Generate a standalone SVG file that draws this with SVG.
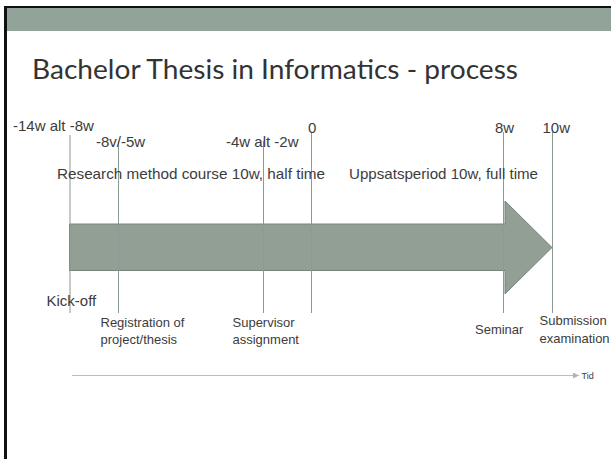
<svg xmlns="http://www.w3.org/2000/svg" width="611" height="459" viewBox="0 0 611 459">
  <defs>
    <style>
      .lbl { font-family: "Liberation Sans", Arial, sans-serif; fill: #3c3c3c; }
      .big { font-size: 15px; }
      .sm { font-size: 13px; }
      .tick { stroke: #8b9a92; stroke-width: 1; fill: none; }
    </style>
    <marker id="tip" viewBox="0 0 6 6" refX="6" refY="3" markerWidth="6" markerHeight="6" orient="auto" markerUnits="userSpaceOnUse">
      <path d="M0,0 L6,3 L0,6 z" fill="#a9b7b0"/>
    </marker>
  </defs>
  <rect x="0" y="0" width="611" height="459" fill="#ffffff"/>
  <g id="frame">
    <rect x="7" y="8" width="604" height="23" fill="#92a399"/>
    <rect x="5" y="6" width="606" height="2" fill="#111111"/>
    <rect x="4" y="6" width="3" height="453" fill="#111111"/>
  </g>
  <g id="title">
    <text x="32" y="79" font-family="Lato, 'Open Sans', sans-serif" font-size="26" fill="#333333" textLength="486" lengthAdjust="spacingAndGlyphs">Bachelor Thesis in Informatics - process</text>
  </g>
  <g id="process-arrow">
    <path d="M69.5,224 L505,224 L505,201 L552,247.5 L505,294 L505,270.5 L69.5,270.5 Z" fill="#919f95" stroke="#76847b" stroke-width="1"/>
  </g>
  <g id="connectors">
    <line class="tick" x1="70" y1="135" x2="70" y2="313"/>
    <line class="tick" x1="118.5" y1="141" x2="118.5" y2="313"/>
    <line class="tick" x1="263.5" y1="141" x2="263.5" y2="313"/>
    <line class="tick" x1="311.5" y1="133" x2="311.5" y2="313"/>
    <line class="tick" x1="503.5" y1="132" x2="503.5" y2="313"/>
    <line class="tick" x1="552.5" y1="132" x2="552.5" y2="313"/>
    <line x1="72" y1="375.5" x2="579" y2="375.5" stroke="#b4c1ba" stroke-width="1" marker-end="url(#tip)"/>
  </g>
  <g id="time-labels">
    <text class="lbl big" x="13" y="131">-14w alt -8w</text>
    <text class="lbl big" x="96" y="147">-8v/-5w</text>
    <text class="lbl big" x="226" y="147">-4w alt -2w</text>
    <text class="lbl big" x="308" y="132.5">0</text>
    <text class="lbl big" x="495" y="132.5">8w</text>
    <text class="lbl big" x="542.5" y="132.5">10w</text>
  </g>
  <g id="period-labels">
    <text class="lbl big" x="57" y="178.5" textLength="268" lengthAdjust="spacingAndGlyphs">Research method course 10w, half time</text>
    <text class="lbl big" x="349" y="178.5" textLength="189" lengthAdjust="spacingAndGlyphs">Uppsatsperiod 10w, full time</text>
  </g>
  <g id="event-labels">
    <text class="lbl big" x="46.5" y="306">Kick-off</text>
    <text class="lbl sm" x="100.5" y="326.5">Registration of</text>
    <text class="lbl sm" x="100.5" y="343.5">project/thesis</text>
    <text class="lbl sm" x="232.5" y="326.5">Supervisor</text>
    <text class="lbl sm" x="232.5" y="343.5">assignment</text>
    <text class="lbl sm" x="475" y="333.5">Seminar</text>
    <text class="lbl sm" x="539.5" y="325">Submission</text>
    <text class="lbl sm" x="539.5" y="342.5">examination</text>
    <text class="lbl" x="581.5" y="378.5" font-size="9">Tid</text>
  </g>
</svg>
